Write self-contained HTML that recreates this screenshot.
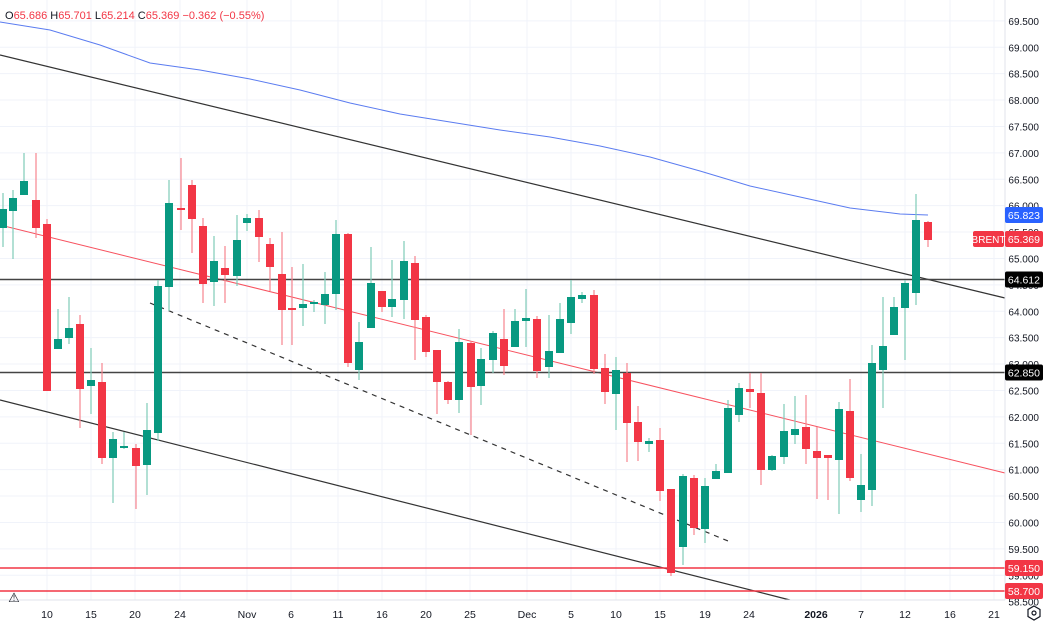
<!DOCTYPE html>
<html><head><meta charset="utf-8"><style>
html,body{margin:0;padding:0;background:#fff;}
svg{display:block;font-family:"Liberation Sans",sans-serif;}
</style></head><body>
<svg id="c" width="1047" height="626" xmlns="http://www.w3.org/2000/svg"></svg>
<script>
const s=document.getElementById('c');let h='';
const G='#089981',R='#f23645';
const px=p=>215+(65.823-p)*52.8;
for(let p=58.5;p<=69.5;p+=0.5){const y=px(p);h+=`<line x1="0" x2="1005" y1="${y}" y2="${y}" stroke="#f0f3fa"/>`;}
const dates=[[47,'10'],[91,'15'],[135,'20'],[180,'24'],[247,'Nov'],[291,'6'],[338,'11'],[382,'16'],[426,'20'],[470,'25'],[527,'Dec'],[571,'5'],[616,'10'],[660,'15'],[705,'19'],[749,'24'],[816,'2026'],[861,'7'],[905,'12'],[950,'16'],[994,'21']];
dates.forEach(d=>{h+=`<line x1="${d[0]}" x2="${d[0]}" y1="0" y2="600" stroke="#f0f3fa"/>`;});
h+=`<polyline fill="none" stroke="#5b7cf0" stroke-width="1" points="0,22 50,30 100,45 150,63 200,70 250,79 300,90 350,103 400,114 450,122 500,130 550,137 600,146 650,157 700,171 750,186 800,197 850,208 900,214 928,215"/>`;
h+=`<line x1="0" y1="55" x2="1005" y2="298" stroke="#333" stroke-width="1.2"/>`;
h+=`<line x1="0" y1="400" x2="790" y2="600" stroke="#333" stroke-width="1.2"/>`;
h+=`<line x1="0" y1="225" x2="1005" y2="473" stroke="#f7525f" stroke-width="1"/>`;
h+=`<line x1="150" y1="303" x2="728" y2="541" stroke="#333" stroke-width="1.2" stroke-dasharray="5,5"/>`;
h+=`<line x1="0" y1="279.5" x2="1005" y2="279.5" stroke="#444" stroke-width="1.5"/>`;
h+=`<line x1="0" y1="372.5" x2="1005" y2="372.5" stroke="#444" stroke-width="1.5"/>`;
h+=`<line x1="0" y1="568" x2="1005" y2="568" stroke="${R}" stroke-width="1.5"/>`;
h+=`<line x1="0" y1="591" x2="1005" y2="591" stroke="${R}" stroke-width="1.5"/>`;
const C=[[3,193,247,209,228,'g'],[13,190,259,198,211,'g'],[24,153,195,181,195,'g'],[36,153,238,200,228,'r'],[47,219,391,224,391,'r'],[58,309,349,339,349,'g'],[69,297,344,328,338,'g'],[80,315,428,324,389,'r'],[91,348,414,380,386,'g'],[102,363,464,382,458,'r'],[113,432,503,439,458,'g'],[124,432,449,446,448,'g'],[136,444,509,448,466,'r'],[147,403,495,430,465,'g'],[158,280,441,286,433,'g'],[169,180,311,203,287,'g'],[181,158,230,208,210,'r'],[192,180,253,185,219,'r'],[203,218,303,226,284,'r'],[214,236,306,261,282,'g'],[225,246,303,268,275,'r'],[237,215,286,240,276,'g'],[247,214,231,218,223,'g'],[259,210,262,218,237,'r'],[270,238,291,244,267,'r'],[282,232,345,274,310,'r'],[292,267,345,308,310,'r'],[303,264,326,304,308,'g'],[314,300,312,302,304,'g'],[325,272,324,294,305,'g'],[336,220,310,234,294,'g'],[348,233,367,234,363,'r'],[359,322,380,342,370,'g'],[371,247,328,283,328,'g'],[382,291,312,291,307,'r'],[392,260,317,299,307,'g'],[404,241,319,261,300,'g'],[415,256,360,263,320,'r'],[426,315,357,317,352,'r'],[437,351,414,350,382,'r'],[448,381,404,382,400,'r'],[459,329,413,342,400,'g'],[471,341,435,343,387,'r'],[481,348,405,359,386,'g'],[493,331,373,333,360,'g'],[504,309,375,339,366,'r'],[515,309,347,321,347,'g'],[526,289,347,318,321,'g'],[537,316,378,319,371,'r'],[549,315,378,351,367,'g'],[560,303,353,319,353,'g'],[571,280,334,297,323,'g'],[582,292,303,295,299,'g'],[594,290,374,295,369,'r'],[605,354,404,368,392,'r'],[616,357,430,370,394,'g'],[627,363,462,373,423,'r'],[638,406,461,422,442,'r'],[649,438,452,441,444,'g'],[660,428,501,440,491,'r'],[671,489,576,489,573,'r'],[683,474,565,476,547,'g'],[694,475,535,478,528,'r'],[705,478,543,486,529,'g'],[716,464,479,471,479,'g'],[728,400,473,408,473,'g'],[739,383,422,388,415,'g'],[750,373,408,389,392,'r'],[761,373,485,393,470,'r'],[772,455,471,456,470,'g'],[784,404,464,431,457,'g'],[795,396,444,429,435,'g'],[806,395,464,427,449,'r'],[817,427,499,451,458,'r'],[828,456,500,455,458,'r'],[839,402,514,409,460,'g'],[850,379,481,411,478,'r'],[861,454,512,485,500,'g'],[872,345,506,363,490,'g'],[883,297,408,346,370,'g'],[894,297,335,307,335,'g'],[905,280,360,283,308,'g'],[916,194,305,220,293,'g'],[928,221,247,222,240,'r']];
C.forEach(c=>{const col=c[5]=='g'?G:R;const wc=c[5]=='g'?'#7fcbb8':'#f7848e';
h+=`<line x1="${c[0]}" x2="${c[0]}" y1="${c[1]}" y2="${c[2]}" stroke="${wc}" stroke-width="1.2"/>`;
h+=`<rect x="${c[0]-4}" y="${c[3]}" width="8" height="${Math.max(1.5,c[4]-c[3])}" fill="${col}"/>`;});
h+=`<rect x="1005" y="0" width="42" height="626" fill="#fff"/><rect x="0" y="600" width="1047" height="26" fill="#fff"/>`;
h+=`<line x1="1005" x2="1005" y1="0" y2="600" stroke="#e0e3eb"/><line x1="0" x2="1005" y1="600" y2="600" stroke="#e0e3eb"/>`;
for(let p=58.5;p<=69.5;p+=0.5){const y=px(p);h+=`<text x="1039" y="${y+4}" font-size="10" text-anchor="end" fill="#131722">${p.toFixed(3)}</text>`;}
dates.forEach(d=>{h+=`<text x="${d[0]}" y="618" font-size="10.5" text-anchor="middle" fill="#131722" ${d[1]=='2026'?'font-weight="bold"':''}>${d[1]}</text>`;});
const box=(y,bg,t)=>{h+=`<rect x="1005" y="${y-8}" width="38" height="16" rx="2" fill="${bg}"/><text x="1040" y="${y+4}" font-size="10.5" text-anchor="end" fill="#fff">${t}</text>`;};
box(215,'#2962ff','65.823');box(239,R,'65.369');box(279.5,'#000','64.612');box(372.5,'#000','62.850');box(568,R,'59.150');box(591,R,'58.700');
h+=`<rect x="973" y="231" width="31" height="16" rx="2" fill="${R}"/><text x="988.5" y="243" font-size="10" text-anchor="middle" fill="#fff">BRENT</text>`;
h+=`<text x="5" y="19" font-size="11" fill="#131722">O<tspan fill="${R}">65.686</tspan> H<tspan fill="${R}">65.701</tspan> L<tspan fill="${R}">65.214</tspan> C<tspan fill="${R}">65.369</tspan> <tspan fill="${R}">−0.362 (−0.55%)</tspan></text>`;
h+=`<text x="14" y="602" font-size="13" text-anchor="middle" fill="#131722">⚠</text>`;
h+=`<polygon points="1034,606 1040,609.5 1040,616.5 1034,620 1028,616.5 1028,609.5" fill="none" stroke="#131722" stroke-width="1.2"/><circle cx="1034" cy="613" r="2" fill="none" stroke="#131722" stroke-width="1.2"/>`;
s.innerHTML=h;
</script>
</body></html>
